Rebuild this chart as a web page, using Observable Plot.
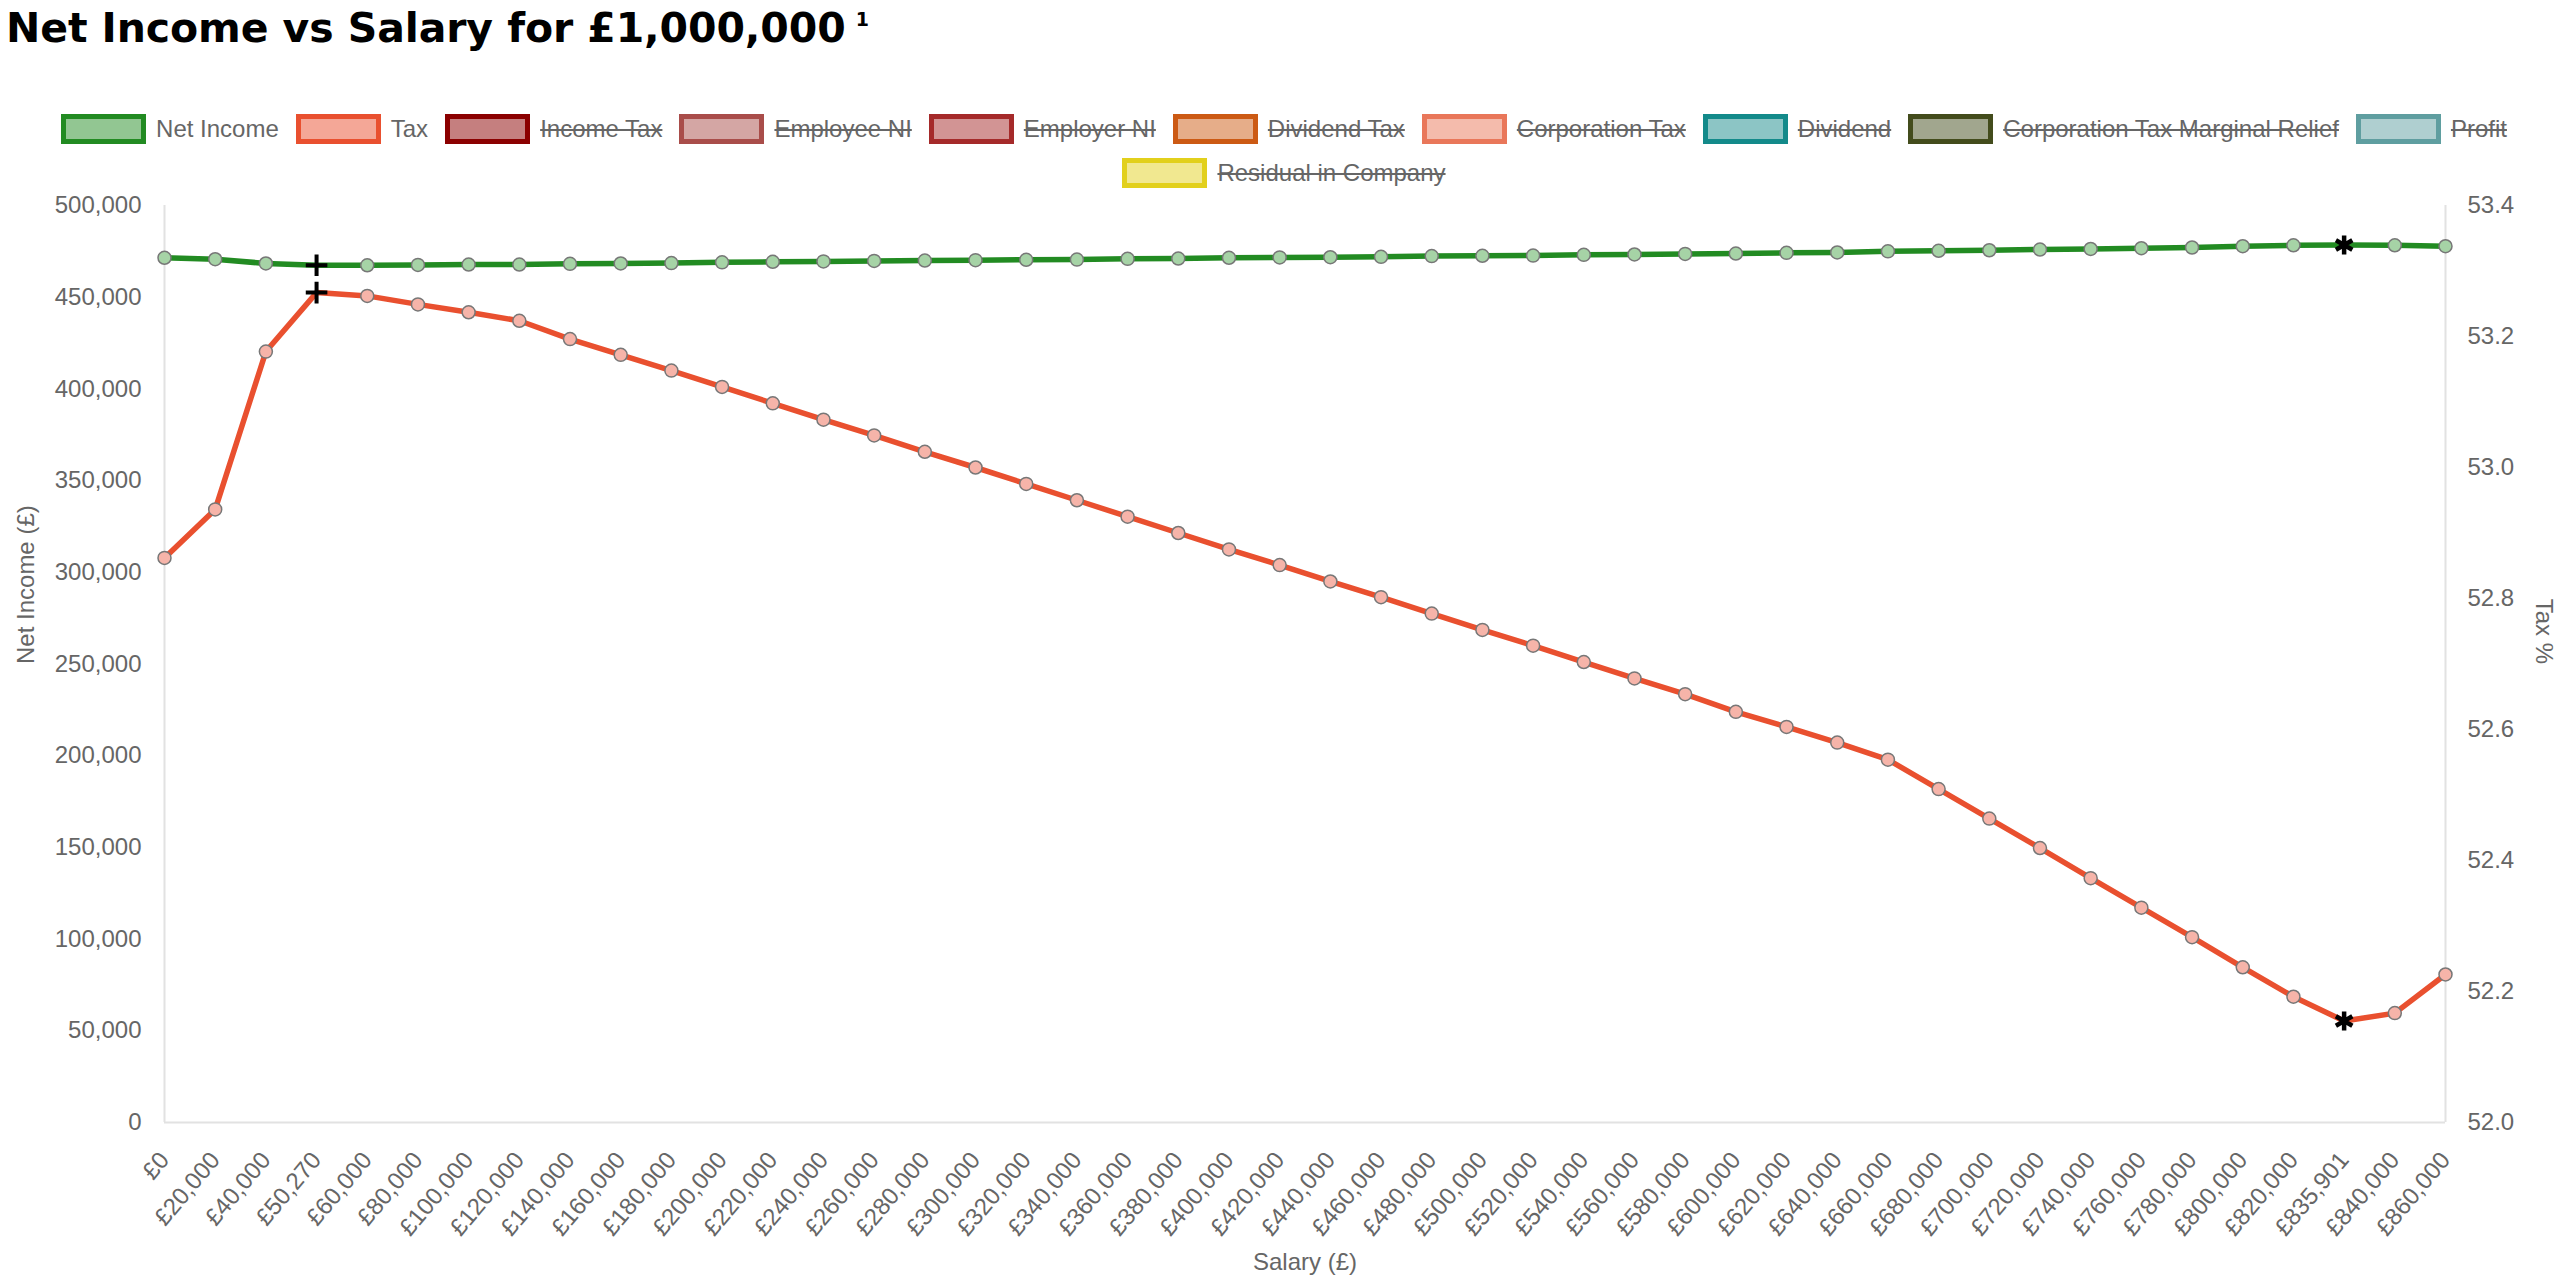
<!DOCTYPE html>
<html>
<head>
<meta charset="utf-8">
<script src="https://cdn.jsdelivr.net/npm/d3@7"></script>
<script src="https://cdn.jsdelivr.net/npm/@observablehq/plot@0.6"></script>
<style>
  html, body { margin: 0; padding: 0; background: #fff; overflow: hidden; }
  #root { position: relative; width: 2568px; height: 1286px; font-family: "Liberation Sans", Arial, sans-serif; }
  #title { position: absolute; left: 6px; top: -2px; font-family: "DejaVu Sans", sans-serif; font-weight: 700;
           font-size: 41px; line-height: 60px; color: #000; white-space: nowrap; letter-spacing: -0.1px; }
  #title .sup { font-size: 19px; position: relative; top: -16px; margin-left: 10px; font-weight: 600; }
  #legend { position: absolute; left: 0; top: 114px; width: 2568px; display: flex; flex-wrap: wrap;
            justify-content: center; column-gap: 17px; row-gap: 14px; }
  .item { display: flex; align-items: center; height: 30px; font-size: 24px; color: #666; white-space: nowrap; }
  .box { width: 85px; height: 30px; box-sizing: border-box; border: 5px solid; margin-right: 10px; }
  .hidden .lbl { text-decoration: line-through; text-decoration-thickness: 2px; }
  #chart { position: absolute; left: 0; top: 190px; }
</style>
</head>
<body>
<div id="root">
  <div id="title">Net Income vs Salary for £1,000,000<span class="sup">1</span></div>
  <div id="legend"></div>
  <div id="chart"></div>
</div>
<script>
// ---------- data ----------
const salaryLabels = [
  "£0", "£20,000", "£40,000", "£50,270", "£60,000", "£80,000", "£100,000", "£120,000", "£140,000", "£160,000",
  "£180,000", "£200,000", "£220,000", "£240,000", "£260,000", "£280,000", "£300,000", "£320,000", "£340,000", "£360,000",
  "£380,000", "£400,000", "£420,000", "£440,000", "£460,000", "£480,000", "£500,000", "£520,000", "£540,000", "£560,000",
  "£580,000", "£600,000", "£620,000", "£640,000", "£660,000", "£680,000", "£700,000", "£720,000", "£740,000", "£760,000",
  "£780,000", "£800,000", "£820,000", "£835,901", "£840,000", "£860,000"
];
const netIncome = [
  471500, 470700, 468400, 467400, 467400, 467600, 467800, 467800, 468200, 468400,
  468600, 469000, 469300, 469500, 469800, 470000, 470200, 470400, 470500, 470900,
  471100, 471500, 471700, 471800, 472000, 472400, 472600, 472700, 473100, 473300,
  473600, 473800, 474200, 474400, 475000, 475300, 475600, 476000, 476300, 476700,
  477100, 477800, 478300, 478500, 478300, 477800
];
const taxPct = [
  52.862, 52.936, 53.177, 53.267, 53.262, 53.249, 53.237, 53.224, 53.196, 53.172,
  53.148, 53.123, 53.098, 53.073, 53.049, 53.024, 53.000, 52.975, 52.950, 52.925,
  52.900, 52.875, 52.851, 52.826, 52.802, 52.777, 52.752, 52.728, 52.703, 52.678,
  52.654, 52.627, 52.604, 52.580, 52.554, 52.509, 52.464, 52.419, 52.373, 52.328,
  52.283, 52.237, 52.192, 52.155, 52.167, 52.226
];
const netTicks = [0, 50000, 100000, 150000, 200000, 250000, 300000, 350000, 400000, 450000, 500000];
const taxTicks = [52.0, 52.2, 52.4, 52.6, 52.8, 53.0, 53.2, 53.4];
const netDomain = [0, 500000];
const taxDomain = [52.0, 53.4];
const legendNames = ["Net Income", "Tax", "Income Tax", "Employee NI", "Employer NI", "Dividend Tax",
  "Corporation Tax", "Dividend", "Corporation Tax Marginal Relief", "Profit", "Residual in Company"];
const legendShown = ["Net Income", "Tax"];
const plusAt = "£50,270";
const asteriskAt = "£835,901";

// ---------- styles ----------
const legendStroke = ["#228b22", "#e9502f", "#8b0000", "#a94d4a", "#a52a2a", "#cc5a14",
  "#e9775a", "#138a8a", "#434c1c", "#5f9ea0", "#e2d01c"];
const legendFill = ["#92c692", "#f4a797", "#c57f7f", "#d4a6a4", "#d29494", "#e6ad89",
  "#f4bbac", "#8cc5c5", "#a1a68e", "#afcfd0", "#f1e890"];
const green = "#228b22", red = "#e9502f";

// ---------- legend ----------
const legend = document.getElementById("legend");
legendNames.forEach((name, i) => {
  const item = document.createElement("div");
  item.className = "item" + (legendShown.includes(name) ? "" : " hidden");
  const box = document.createElement("div");
  box.className = "box";
  box.style.borderColor = legendStroke[i];
  box.style.background = legendFill[i];
  const lbl = document.createElement("span");
  lbl.className = "lbl";
  lbl.textContent = name;
  item.appendChild(box);
  item.appendChild(lbl);
  legend.appendChild(item);
});

// ---------- chart ----------
const toLeft = t => netDomain[0] + (t - taxDomain[0]) / (taxDomain[1] - taxDomain[0]) * (netDomain[1] - netDomain[0]);
const fromLeft = v => taxDomain[0] + (v - netDomain[0]) / (netDomain[1] - netDomain[0]) * (taxDomain[1] - taxDomain[0]);

const rows = salaryLabels.map((s, i) => ({salary: s, net: netIncome[i], taxY: toLeft(taxPct[i])}));
const plain = rows.filter(d => d.salary !== plusAt && d.salary !== asteriskAt);
const plusRows = rows.filter(d => d.salary === plusAt);
const starRows = rows.filter(d => d.salary === asteriskAt);
const axisColor = "#e2e2e2";

const chart = Plot.plot({
  width: 2568,
  height: 1096,
  marginLeft: 164,
  marginRight: 123,
  marginTop: 15,
  marginBottom: 164,
  style: {fontFamily: "'Liberation Sans', Arial, sans-serif", fontSize: "24px", color: "#666", background: "#fff"},
  x: {type: "point", domain: salaryLabels, padding: 0, axis: null},
  y: {domain: netDomain, axis: null},
  marks: [
    Plot.ruleY([netDomain[0]], {stroke: axisColor, strokeWidth: 2}),
    Plot.ruleX([salaryLabels[0], salaryLabels[salaryLabels.length - 1]], {stroke: axisColor, strokeWidth: 2}),
    Plot.axisY({ticks: netTicks, tickSize: 0, tickPadding: 23, tickFormat: d3.format(","), label: null}),
    Plot.axisY({anchor: "right", ticks: taxTicks.map(toLeft), tickSize: 0, tickPadding: 22,
      tickFormat: v => fromLeft(v).toFixed(1), label: null}),
    Plot.axisX({tickRotate: -50, tickSize: 0, tickPadding: 33, label: null}),
    Plot.text(["Net Income (£)"], {text: d => d, frameAnchor: "left", dx: -138, rotate: -90}),
    Plot.text(["Tax %"], {text: d => d, frameAnchor: "right", dx: 98, rotate: 90}),
    Plot.text(["Salary (£)"], {text: d => d, frameAnchor: "bottom", dy: 147}),
    Plot.line(rows, {x: "salary", y: "net", stroke: green, strokeWidth: 5.5}),
    Plot.line(rows, {x: "salary", y: "taxY", stroke: red, strokeWidth: 5.5}),
    Plot.dot(plain, {x: "salary", y: "net", r: 6.5, fill: "#a6d3a6", stroke: "#777", strokeWidth: 1.5}),
    Plot.dot(plain, {x: "salary", y: "taxY", r: 6.5, fill: "#f6b4a9", stroke: "#777", strokeWidth: 1.5}),
    Plot.dot(plusRows, {x: "salary", y: "net", symbol: "plus", r: 7, stroke: "#000", strokeWidth: 4}),
    Plot.dot(plusRows, {x: "salary", y: "taxY", symbol: "plus", r: 7, stroke: "#000", strokeWidth: 4}),
    Plot.dot(starRows, {x: "salary", y: "net", symbol: "asterisk", r: 9, stroke: "#000", strokeWidth: 4.5}),
    Plot.dot(starRows, {x: "salary", y: "taxY", symbol: "asterisk", r: 9, stroke: "#000", strokeWidth: 4.5})
  ]
});
document.getElementById("chart").appendChild(chart);
</script>
</body>
</html>
